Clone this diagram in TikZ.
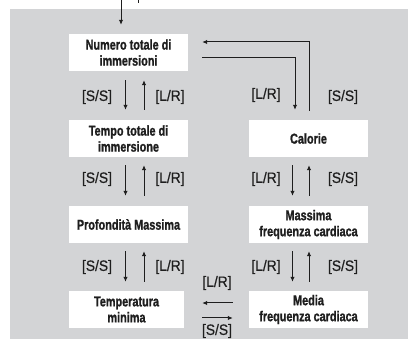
\documentclass[tikz,border=0pt]{standalone}
\usepackage{fontspec}
\setmainfont{Liberation Sans}[FakeStretch=0.77]
\newfontfamily\boxfont{Liberation Sans}[FakeStretch=0.76,BoldFeatures={FakeBold=1.2}]
\newfontfamily\lblfont{Liberation Sans}[FakeStretch=0.92,FakeBold=0.6]
\usetikzlibrary{arrows.meta,calc}
\definecolor{bg}{HTML}{D3D4D6}
\definecolor{ink}{HTML}{1E1E1E}
\begin{document}
\begin{tikzpicture}[x=1pt,y=-1pt,
  box/.style={fill=white,draw=none,inner sep=0pt,minimum width=119pt,minimum height=37pt,
    align=center,text=ink,font=\boxfont\fontsize{14.3}{16}\selectfont\bfseries},
  lbl/.style={inner sep=0pt,text=ink,font=\lblfont\fontsize{15}{16}\selectfont},
  arr/.style={draw=ink,line width=1pt,-{Latex[length=5pt,width=4.5pt]}},
  ln/.style={draw=ink,line width=1pt}]
\useasboundingbox (0,0) rectangle (408,339);
\fill[bg] (10,9) rectangle (408,339);
% boxes
\node[box] (num) at (128.5,52.5) {Numero totale di\\immersioni};
\node[box] (tem) at (128.5,138.5) {Tempo totale di\\immersione};
\node[box] (pro) at (128.5,224.5) {Profondità Massima};
\node[box,minimum width=115pt] (tmp) at (126.5,309.5) {Temperatura\\minima};
\node[box] (cal) at (308.5,138.5) {Calorie};
\node[box] (mas) at (308.5,224.5) {Massima\\frequenza cardiaca};
\node[box] (med) at (308.5,309.5) {Media\\frequenza cardiaca};
% incoming from above
\coordinate (in) at (121,0);
\draw[arr] (in) -- ($(num.north)+(-7.5,-9)$);
\coordinate (fa) at (138,0);
\coordinate (fb) at (138,3);
\draw[ln] (fa) -- (fb);
% left column
\draw[arr] ($(num.south)+(-3,9)$) -- ($(tem.north)+(-3,-10)$);
\draw[arr] ($(tem.north)+(15.5,-10)$) -- ($(num.south)+(15.5,9)$);
\node[lbl] (l1) at (97,97) {[S/S]};
\node[lbl] (l2) at (170,97) {[L/R]};
\draw[arr] ($(tem.south)+(-3,8)$) -- ($(pro.north)+(-3,-10)$);
\draw[arr] ($(pro.north)+(15.5,-10)$) -- ($(tem.south)+(15.5,8)$);
\node[lbl] (l3) at (97,179) {[S/S]};
\node[lbl] (l4) at (170,179) {[L/R]};
\draw[arr] ($(pro.south)+(-3,8)$) -- ($(tmp.north)+(-1,-9)$);
\draw[arr] ($(tmp.north)+(17.5,-9)$) -- ($(pro.south)+(15.5,8)$);
\node[lbl] (l5) at (97,267) {[S/S]};
\node[lbl] (l6) at (170,267) {[L/R]};
% top loop
\draw[arr] ($(cal.north)+(0.5,-9)$) |- ($(num.east)+(14,-10.5)$);
\draw[arr] ($(num.east)+(14,5.5)$) -| ($(cal.north)+(-13.5,-10)$);
\node[lbl] (l7) at (266,95) {[L/R]};
\node[lbl] (l8) at (343,97) {[S/S]};
% right column
\draw[arr] ($(cal.south)+(-16,8)$) -- ($(mas.north)+(-16,-10)$);
\draw[arr] ($(mas.north)+(0.5,-10)$) -- ($(cal.south)+(0.5,8)$);
\node[lbl] (l9) at (266,179) {[L/R]};
\node[lbl] (l10) at (343,179) {[S/S]};
\draw[arr] ($(mas.south)+(-16,8)$) -- ($(med.north)+(-16,-9)$);
\draw[arr] ($(med.north)+(0.5,-9)$) -- ($(mas.south)+(0.5,8)$);
\node[lbl] (l11) at (266,267) {[L/R]};
\node[lbl] (l12) at (343,267) {[S/S]};
% bottom horizontal
\draw[arr] ($(med.west)+(-16,-6.5)$) -- ($(tmp.east)+(18,-6.5)$);
\draw[arr] ($(tmp.east)+(18,8.5)$) -- ($(med.west)+(-16,8.5)$);
\node[lbl] (l13) at (217,283) {[L/R]};
\node[lbl] (l14) at (217,331) {[S/S]};
\end{tikzpicture}
\end{document}
